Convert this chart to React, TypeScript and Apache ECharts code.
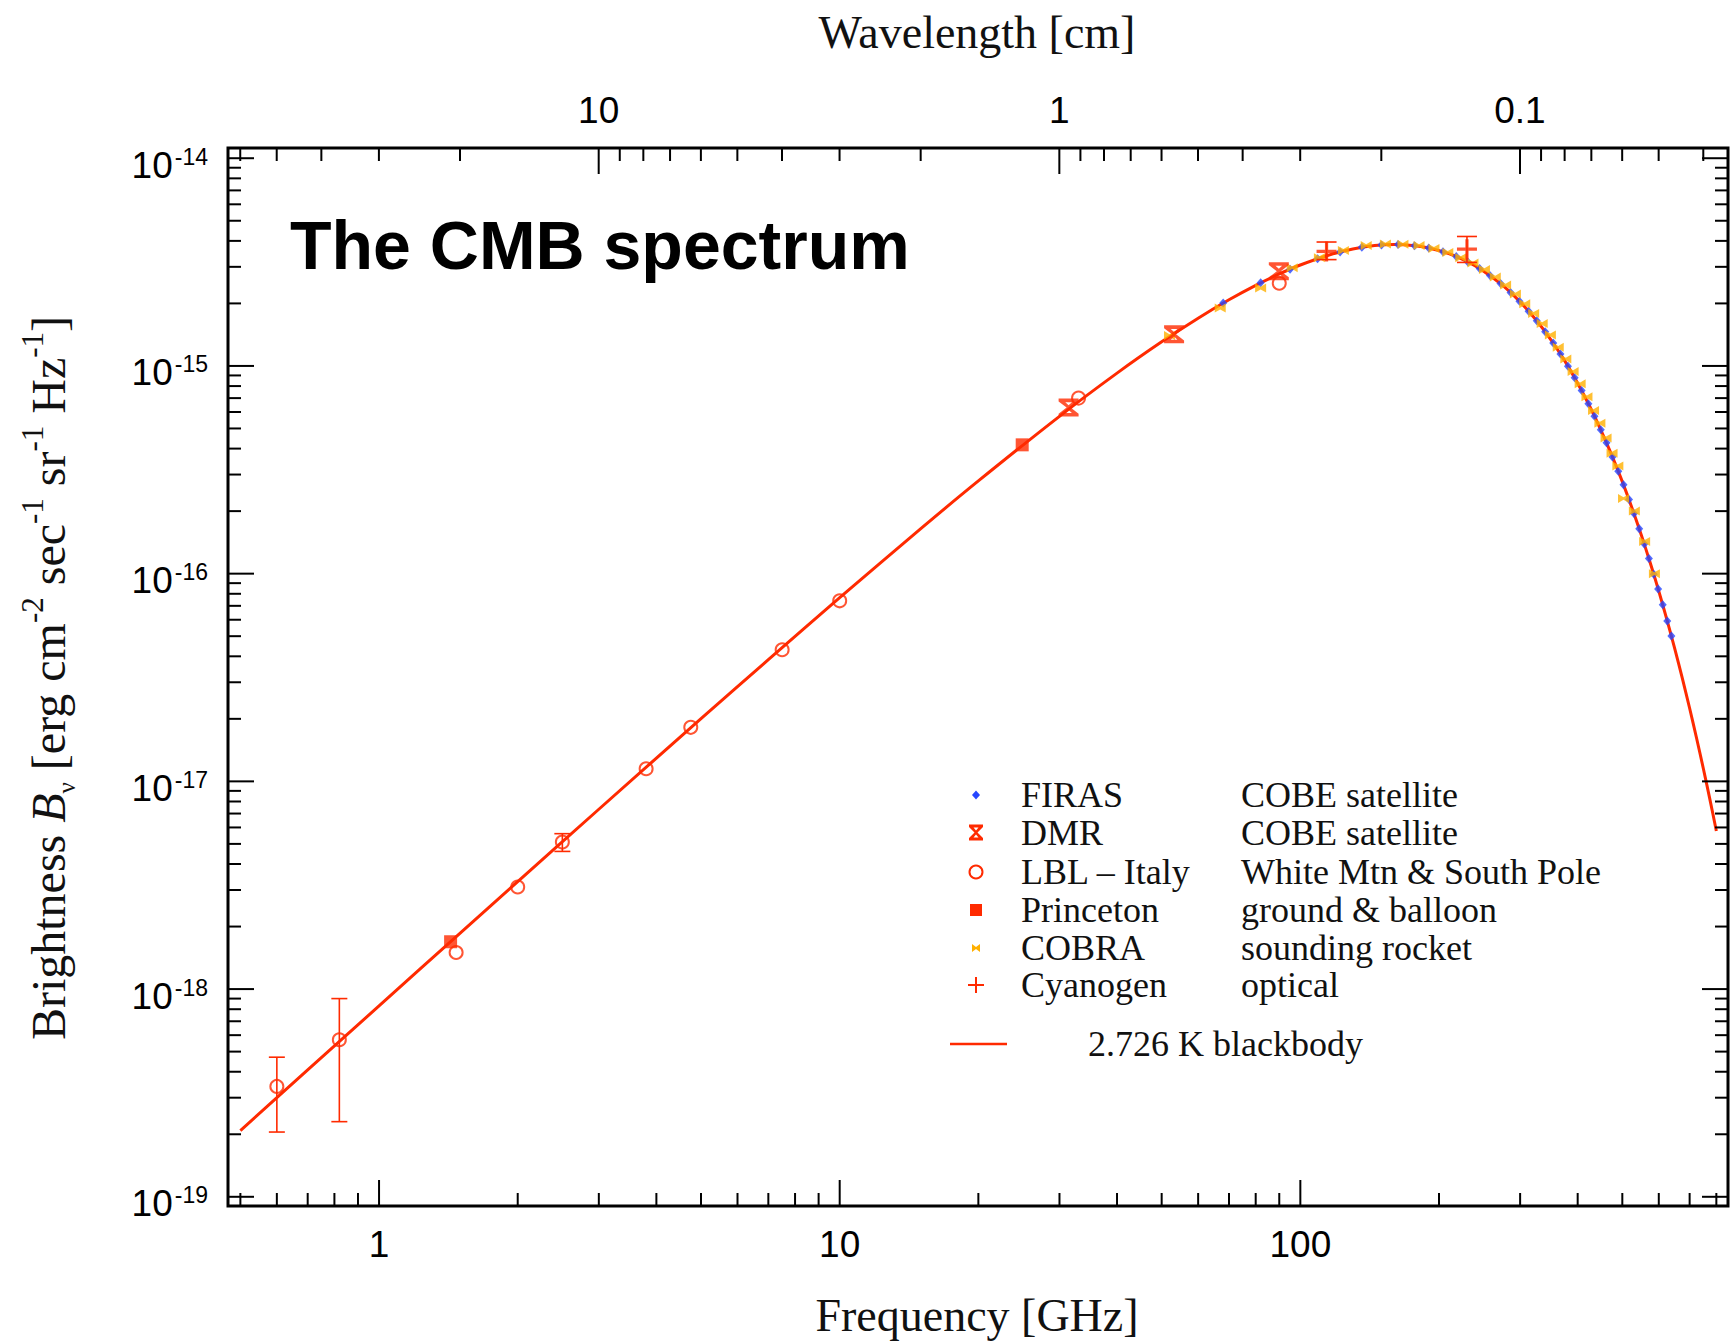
import React, { useEffect, useRef } from 'react';
import * as echarts from 'echarts';

// ---------- axis ranges ----------
const X_MIN = 0.47; // GHz
const X_MAX = 848; // GHz
const Y_MIN = 9.03e-20;
const Y_MAX = 1.12e-14;
const C_CM_GHZ = 29.9792458; // wavelength[cm] * frequency[GHz]

// ---------- tick values ----------
const X_TICK_MAJOR = [1, 10, 100];
const Y_TICK_MAJOR = [1e-19, 1e-18, 1e-17, 1e-16, 1e-15, 1e-14];
const WL_TICK_MAJOR = [10, 1, 0.1];
const X_DECADES = [0.1, 1, 10, 100];
const Y_DECADES = [1e-20, 1e-19, 1e-18, 1e-17, 1e-16, 1e-15, 1e-14];
const WL_DECADES = [0.01, 0.1, 1, 10];
const MINOR_MULT = [2, 3, 4, 5, 6, 7, 8, 9];

// ---------- 2.726 K blackbody curve ----------
const BB_FREQ = [0.5, 0.7, 1, 1.5, 2, 3, 5, 7, 10, 15, 20, 30, 40, 50, 60, 70, 80, 90, 100, 115, 130, 145, 160, 175, 190, 210, 230, 250, 275, 300, 325, 350, 375, 400, 425, 450, 475, 500, 525, 550, 575, 600, 625, 650, 675, 700, 725, 750, 775, 800];
const BB_VAL = [2.085e-19, 4.079e-19, 8.302e-19, 1.860e-18, 3.292e-18, 7.341e-18, 2.003e-17, 3.856e-17, 7.660e-17, 1.647e-16, 2.795e-16, 5.721e-16, 9.231e-16, 1.306e-15, 1.698e-15, 2.082e-15, 2.444e-15, 2.773e-15, 3.062e-15, 3.412e-15, 3.656e-15, 3.796e-15, 3.841e-15, 3.804e-15, 3.697e-15, 3.473e-15, 3.184e-15, 2.860e-15, 2.441e-15, 2.035e-15, 1.663e-15, 1.336e-15, 1.058e-15, 8.258e-16, 6.377e-16, 4.874e-16, 3.692e-16, 2.773e-16, 2.066e-16, 1.530e-16, 1.126e-16, 8.235e-17, 5.994e-17, 4.342e-17, 3.131e-17, 2.249e-17, 1.609e-17, 1.147e-17, 8.149e-18, 5.772e-18];

// ---------- FIRAS ----------
const FIRAS_FREQ = [68, 82, 95, 109, 122, 136, 150, 163, 177, 190, 204, 218, 231, 245, 258, 272, 286, 299, 313, 326, 340, 354, 367, 381, 394, 408, 422, 435, 449, 462, 476, 490, 503, 517, 530, 544, 558, 571, 585, 598, 612, 626, 639];
const FIRAS_VAL = [2.007e-15, 2.512e-15, 2.923e-15, 3.284e-15, 3.539e-15, 3.724e-15, 3.821e-15, 3.840e-15, 3.793e-15, 3.697e-15, 3.548e-15, 3.363e-15, 3.168e-15, 2.943e-15, 2.726e-15, 2.491e-15, 2.259e-15, 2.050e-15, 1.836e-15, 1.649e-15, 1.461e-15, 1.288e-15, 1.141e-15, 9.975e-16, 8.773e-16, 7.612e-16, 6.582e-16, 5.733e-16, 4.927e-16, 4.269e-16, 3.649e-16, 3.111e-16, 2.677e-16, 2.272e-16, 1.947e-16, 1.645e-16, 1.388e-16, 1.183e-16, 9.939e-17, 8.445e-17, 7.075e-17, 5.917e-17, 5.006e-17];

// ---------- COBRA ----------
const COBRA_FREQ = [52, 67, 82, 96, 110, 124, 139, 153, 167, 181, 195, 209, 223, 237, 251, 265, 279, 293, 307, 321, 335, 349, 363, 377, 391, 405, 419, 433, 447, 461, 475, 489, 503, 531, 559, 587];
const COBRA_VAL = [1.40e-15, 1.90e-15, 2.37e-15, 2.97e-15, 3.32e-15, 3.60e-15, 3.80e-15, 3.86e-15, 3.85e-15, 3.80e-15, 3.68e-15, 3.52e-15, 3.32e-15, 3.13e-15, 2.91e-15, 2.68e-15, 2.45e-15, 2.22e-15, 1.99e-15, 1.79e-15, 1.60e-15, 1.41e-15, 1.23e-15, 1.08e-15, 9.4e-16, 8.2e-16, 7.1e-16, 6.1e-16, 5.3e-16, 4.5e-16, 3.80e-16, 3.30e-16, 2.30e-16, 2.00e-16, 1.43e-16, 1.00e-16];

// ---------- LBL - Italy ----------
const LBL_FREQ = [0.6, 0.82, 1.47, 2.0, 2.5, 3.8, 4.75, 7.5, 10, 33, 90];
const LBL_VAL = [3.4e-19, 5.7e-19, 1.5e-18, 3.1e-18, 5.1e-18, 1.15e-17, 1.82e-17, 4.3e-17, 7.4e-17, 7.0e-16, 2.5e-15];
const LBL_ERR_FREQ = [0.6, 0.82, 2.5];
const LBL_ERR_LO = [2.05e-19, 2.3e-19, 4.6e-18];
const LBL_ERR_HI = [4.7e-19, 9.0e-19, 5.6e-18];

// ---------- Princeton ----------
const PRIN_FREQ = [1.43, 24.9];
const PRIN_VAL = [1.69e-18, 4.17e-16];

// ---------- DMR ----------
const DMR_FREQ = [31.4, 53.2, 89.8];
const DMR_VAL = [6.3e-16, 1.42e-15, 2.86e-15];

// ---------- Cyanogen ----------
const CN_FREQ = [114, 230];
const CN_VAL = [3.56e-15, 3.65e-15];
const CN_ERR_LO = [3.25e-15, 3.15e-15];
const CN_ERR_HI = [3.95e-15, 4.2e-15];

// ---------- legend ----------
const LEGEND_NAMES = ['FIRAS', 'DMR', 'LBL \u2013 Italy', 'Princeton', 'COBRA', 'Cyanogen'];
const LEGEND_DESC = ['COBE satellite', 'COBE satellite', 'White Mtn & South Pole', 'ground & balloon', 'sounding rocket', 'optical'];
const BB_LABEL = '2.726 K blackbody';

const RED = '#ff2a00';
const BLUE = '#2546ff';
const ORANGE = '#ffb000';
const SERIF = '"Liberation Serif", "Times New Roman", serif';
const SANS = '"Liberation Sans", Arial, sans-serif';

const DMR_PATH = 'path://M0,0H12V2.2L7.2,7L12,11.8V14H0V11.8L4.8,7L0,2.2ZM4,2.8L6,5.2L8,2.8ZM4,11.2L8,11.2L6,8.8Z';
const CN_PATH = 'path://M4.2,0H5.8V4.2H10V5.8H5.8V10H4.2V5.8H0V4.2H4.2Z';
const COBRA_PATH = 'path://M0,0L5,3.5L10,0L10,10L5,6.5L0,10Z';

const isDecade = (v: number) => Math.abs(Math.log10(v) - Math.round(Math.log10(v))) < 1e-6;

function minorTicks(decades: number[], lo: number, hi: number): number[] {
  const out: number[] = [];
  decades.forEach((d) => MINOR_MULT.forEach((m) => {
    const v = m * d;
    if (v > lo && v < hi) out.push(v);
  }));
  return out;
}

function buildOption() {
  const pair = (a: number[], b: number[]) => a.map((v, i) => [v, b[i]]);

  const bottomTicks = [
    ...X_TICK_MAJOR.map((v) => [v, Y_MIN, 1]),
    ...minorTicks(X_DECADES, X_MIN, X_MAX).map((v) => [v, Y_MIN, 0]),
  ];
  const wlLo = C_CM_GHZ / X_MAX;
  const wlHi = C_CM_GHZ / X_MIN;
  const topTicks = [
    ...WL_TICK_MAJOR.map((v) => [v, Y_MAX, 1]),
    ...minorTicks(WL_DECADES, wlLo, wlHi).map((v) => [v, Y_MAX, 0]),
  ];
  const sideTicks = [
    ...Y_TICK_MAJOR.map((v) => [X_MIN, v, 1]),
    ...minorTicks(Y_DECADES, Y_MIN, Y_MAX).map((v) => [X_MIN, v, 0]),
  ];
  const tickStyle = { stroke: '#000', lineWidth: 2 };
  const MAJ = 26;
  const MIN = 13;

  const errBar = (capHalf: number) => (params: any, api: any) => {
    const x = api.value(0);
    const p1 = api.coord([x, api.value(1)]);
    const p2 = api.coord([x, api.value(2)]);
    return {
      type: 'group',
      children: [
        { type: 'line', shape: { x1: p1[0], y1: p1[1], x2: p2[0], y2: p2[1] }, style: { stroke: RED, lineWidth: 1.6 } },
        { type: 'line', shape: { x1: p1[0] - capHalf, y1: p1[1], x2: p1[0] + capHalf, y2: p1[1] }, style: { stroke: RED, lineWidth: 1.6 } },
        { type: 'line', shape: { x1: p2[0] - capHalf, y1: p2[1], x2: p2[0] + capHalf, y2: p2[1] }, style: { stroke: RED, lineWidth: 1.6 } },
      ],
    };
  };

  const hiddenAxis = {
    axisLine: { show: false },
    axisTick: { show: false },
    splitLine: { show: false },
    minorTick: { show: false },
  };

  // legend graphics
  const LX_MARK = 976;
  const LX_NAME = 1021;
  const LX_DESC = 1241;
  const ROWS = [795, 832.5, 872, 910, 948, 985];
  const legendText = (x: number, y: number, text: string) => ({
    type: 'text', x, y, silent: true,
    style: { text, fill: '#111', font: `36px ${SERIF}`, lineHeight: 32, align: 'left', verticalAlign: 'middle' },
  });
  const legendMarks: any[] = [
    { type: 'polygon', shape: { points: [[LX_MARK, ROWS[0] - 4.5], [LX_MARK + 4, ROWS[0]], [LX_MARK, ROWS[0] + 4.5], [LX_MARK - 4, ROWS[0]]] }, style: { fill: BLUE } },
    { type: 'polygon', shape: { points: [[-7, -8], [7, -8], [7, -5.5], [1.5, 0], [7, 5.5], [7, 8], [-7, 8], [-7, 5.5], [-1.5, 0], [-7, -5.5]].map((p) => [LX_MARK + p[0], ROWS[1] + p[1]]) }, style: { fill: RED } },
    { type: 'polygon', shape: { points: [[-2.5, -5], [2.5, -5], [0, -2]].map((p) => [LX_MARK + p[0], ROWS[1] + p[1]]) }, style: { fill: '#fff' } },
    { type: 'polygon', shape: { points: [[-2.5, 5], [2.5, 5], [0, 2]].map((p) => [LX_MARK + p[0], ROWS[1] + p[1]]) }, style: { fill: '#fff' } },
    { type: 'circle', shape: { cx: LX_MARK, cy: ROWS[2], r: 6.5 }, style: { fill: 'none', stroke: RED, lineWidth: 2 } },
    { type: 'rect', shape: { x: LX_MARK - 6, y: ROWS[3] - 6, width: 12, height: 12 }, style: { fill: RED } },
    { type: 'polygon', shape: { points: [[-4, -4], [0, -1], [4, -4], [4, 4], [0, 1], [-4, 4]].map((p) => [LX_MARK + p[0], ROWS[4] + p[1]]) }, style: { fill: ORANGE } },
    { type: 'line', shape: { x1: LX_MARK - 8, y1: ROWS[5], x2: LX_MARK + 8, y2: ROWS[5] }, style: { stroke: RED, lineWidth: 2 } },
    { type: 'line', shape: { x1: LX_MARK, y1: ROWS[5] - 8, x2: LX_MARK, y2: ROWS[5] + 8 }, style: { stroke: RED, lineWidth: 2 } },
    { type: 'line', shape: { x1: 950, y1: 1044, x2: 1007, y2: 1044 }, style: { stroke: RED, lineWidth: 2.5 } },
  ];

  const yTitle =
    '{n|Brightness }{i|B}{sub|\u03bd}{n| [erg cm}{sup|-2}{n| sec}{sup|-1}{n| sr}{sup|-1}{n| Hz}{sup|-1}{n|]}';

  return {
    animation: false,
    backgroundColor: '#fff',
    grid: {
      left: 228, top: 148, width: 1500, height: 1058,
      show: true, borderColor: '#000', borderWidth: 3, backgroundColor: 'transparent',
      containLabel: false, outerBoundsMode: 'none',
    },
    xAxis: [
      {
        type: 'log', logBase: 10, min: X_MIN, max: X_MAX, position: 'bottom', ...hiddenAxis,
        axisLabel: {
          show: true, margin: 20, color: '#000', fontSize: 37, fontFamily: SANS,
          showMinLabel: false, showMaxLabel: false,
          formatter: (v: number) => (isDecade(v) ? String(Math.round(v)) : ''),
        },
      },
      {
        type: 'log', logBase: 10, min: C_CM_GHZ / X_MAX, max: C_CM_GHZ / X_MIN, inverse: true,
        position: 'top', ...hiddenAxis,
        axisLabel: {
          show: true, margin: 19, color: '#000', fontSize: 37, fontFamily: SANS,
          showMinLabel: false, showMaxLabel: false,
          formatter: (v: number) => (isDecade(v) ? (v >= 1 ? String(Math.round(v)) : String(+v.toFixed(3))) : ''),
        },
      },
    ],
    yAxis: [
      {
        type: 'log', logBase: 10, min: Y_MIN, max: Y_MAX, position: 'left', ...hiddenAxis,
        axisLabel: {
          show: true, margin: 20, color: '#000',
          showMinLabel: false, showMaxLabel: false,
          formatter: (v: number) => (isDecade(v) ? `{b|10}{s|${Math.round(Math.log10(v))}}` : ''),
          rich: {
            b: { fontSize: 37, fontFamily: SANS, color: '#000', lineHeight: 38, padding: [14, 0, 0, 0], verticalAlign: 'middle' },
            s: { fontSize: 23, fontFamily: SANS, color: '#000', lineHeight: 22, padding: [6, 0, 0, 2], verticalAlign: 'top' },
          },
        },
      },
    ],
    series: [
      {
        name: 'blackbody', type: 'line', xAxisIndex: 0, yAxisIndex: 0,
        data: pair(BB_FREQ, BB_VAL), showSymbol: false, smooth: 0.3,
        lineStyle: { color: RED, width: 3 }, z: 2, silent: true,
      },
      {
        name: 'LBL err', type: 'custom', xAxisIndex: 0, yAxisIndex: 0, clip: false, silent: true, z: 3,
        data: LBL_ERR_FREQ.map((f, i) => [f, LBL_ERR_LO[i], LBL_ERR_HI[i]]),
        encode: { x: 0, y: [1, 2] }, renderItem: errBar(8),
      },
      {
        name: 'Cyanogen err', type: 'custom', xAxisIndex: 0, yAxisIndex: 0, clip: false, silent: true, z: 6,
        data: CN_FREQ.map((f, i) => [f, CN_ERR_LO[i], CN_ERR_HI[i]]),
        encode: { x: 0, y: [1, 2] }, renderItem: errBar(10),
      },
      {
        name: 'FIRAS', type: 'scatter', data: pair(FIRAS_FREQ, FIRAS_VAL),
        symbol: 'diamond', symbolSize: [8, 9], itemStyle: { color: BLUE }, z: 4, silent: true,
      },
      {
        name: 'COBRA', type: 'scatter', data: pair(COBRA_FREQ, COBRA_VAL),
        symbol: COBRA_PATH, symbolSize: [11, 9], itemStyle: { color: ORANGE }, z: 4, silent: true,
      },
      {
        name: 'LBL - Italy', type: 'scatter', data: pair(LBL_FREQ, LBL_VAL),
        symbol: 'circle', symbolSize: 13,
        itemStyle: { color: 'rgba(255,255,255,0)', borderColor: RED, borderWidth: 2 }, z: 5, silent: true,
      },
      {
        name: 'Princeton', type: 'scatter', data: pair(PRIN_FREQ, PRIN_VAL),
        symbol: 'rect', symbolSize: 13, itemStyle: { color: RED }, z: 5, silent: true,
      },
      {
        name: 'DMR', type: 'scatter', data: pair(DMR_FREQ, DMR_VAL),
        symbol: DMR_PATH, symbolSize: [20, 18], itemStyle: { color: RED }, z: 6, silent: true,
      },
      {
        name: 'Cyanogen', type: 'scatter', data: pair(CN_FREQ, CN_VAL),
        symbol: CN_PATH, symbolSize: [20, 20], itemStyle: { color: RED }, z: 6, silent: true,
      },
      {
        name: 'bottom ticks', type: 'custom', xAxisIndex: 0, yAxisIndex: 0, clip: false, silent: true, z: 10,
        data: bottomTicks, encode: { x: 0, y: 1 },
        renderItem: (params: any, api: any) => {
          const p = api.coord([api.value(0), Y_MIN]);
          const len = api.value(2) ? MAJ : MIN;
          return { type: 'line', shape: { x1: p[0], y1: p[1], x2: p[0], y2: p[1] - len }, style: tickStyle };
        },
      },
      {
        name: 'top ticks', type: 'custom', xAxisIndex: 1, yAxisIndex: 0, clip: false, silent: true, z: 10,
        data: topTicks, encode: { x: 0, y: 1 },
        renderItem: (params: any, api: any) => {
          const p = api.coord([api.value(0), Y_MAX]);
          const len = api.value(2) ? MAJ : MIN;
          return { type: 'line', shape: { x1: p[0], y1: p[1], x2: p[0], y2: p[1] + len }, style: tickStyle };
        },
      },
      {
        name: 'side ticks', type: 'custom', xAxisIndex: 0, yAxisIndex: 0, clip: false, silent: true, z: 10,
        data: sideTicks, encode: { x: 0, y: 1 },
        renderItem: (params: any, api: any) => {
          const pl = api.coord([X_MIN, api.value(1)]);
          const pr = api.coord([X_MAX, api.value(1)]);
          const len = api.value(2) ? MAJ : MIN;
          return {
            type: 'group',
            children: [
              { type: 'line', shape: { x1: pl[0], y1: pl[1], x2: pl[0] + len, y2: pl[1] }, style: tickStyle },
              { type: 'line', shape: { x1: pr[0], y1: pr[1], x2: pr[0] - len, y2: pr[1] }, style: tickStyle },
            ],
          };
        },
      },
    ],
    graphic: [
      {
        type: 'text', x: 290, y: 245, silent: true,
        style: { text: 'The CMB spectrum', fill: '#000', font: `bold 68px ${SANS}`, align: 'left', verticalAlign: 'middle' },
      },
      {
        type: 'text', x: 977, y: 32, silent: true,
        style: { text: 'Wavelength [cm]', fill: '#111', font: `46px ${SERIF}`, align: 'center', verticalAlign: 'middle' },
      },
      {
        type: 'text', x: 977, y: 1315, silent: true,
        style: { text: 'Frequency [GHz]', fill: '#111', font: `46px ${SERIF}`, align: 'center', verticalAlign: 'middle' },
      },
      {
        type: 'text', x: 48, y: 678, rotation: Math.PI / 2, silent: true,
        style: {
          text: yTitle, align: 'center', verticalAlign: 'middle', fill: '#111',
          rich: {
            n: { fontSize: 48, fontFamily: SERIF, color: '#111', lineHeight: 62, verticalAlign: 'middle' },
            i: { fontSize: 48, fontFamily: SERIF, fontStyle: 'italic', color: '#111', lineHeight: 62, verticalAlign: 'middle' },
            sup: { fontSize: 31, fontFamily: SERIF, color: '#111', lineHeight: 35, verticalAlign: 'top' },
            sub: { fontSize: 25, fontFamily: SERIF, color: '#111', lineHeight: 31, verticalAlign: 'bottom' },
          },
        },
      },
      ...legendMarks,
      ...LEGEND_NAMES.map((n, i) => legendText(LX_NAME, ROWS[i], n)),
      ...LEGEND_DESC.map((d, i) => legendText(LX_DESC, ROWS[i], d)),
      legendText(1088, 1044, BB_LABEL),
    ],
  };
}

export default function App() {
  const ref = useRef<HTMLDivElement>(null);
  useEffect(() => {
    if (!ref.current) return;
    const chart = echarts.init(ref.current, null, { renderer: 'svg' });
    chart.setOption(buildOption() as any);
    return () => chart.dispose();
  }, []);
  return (
    <div
      ref={ref}
      style={{ position: 'fixed', left: 0, top: 0, width: 1736, height: 1341, background: '#fff' }}
    />
  );
}
